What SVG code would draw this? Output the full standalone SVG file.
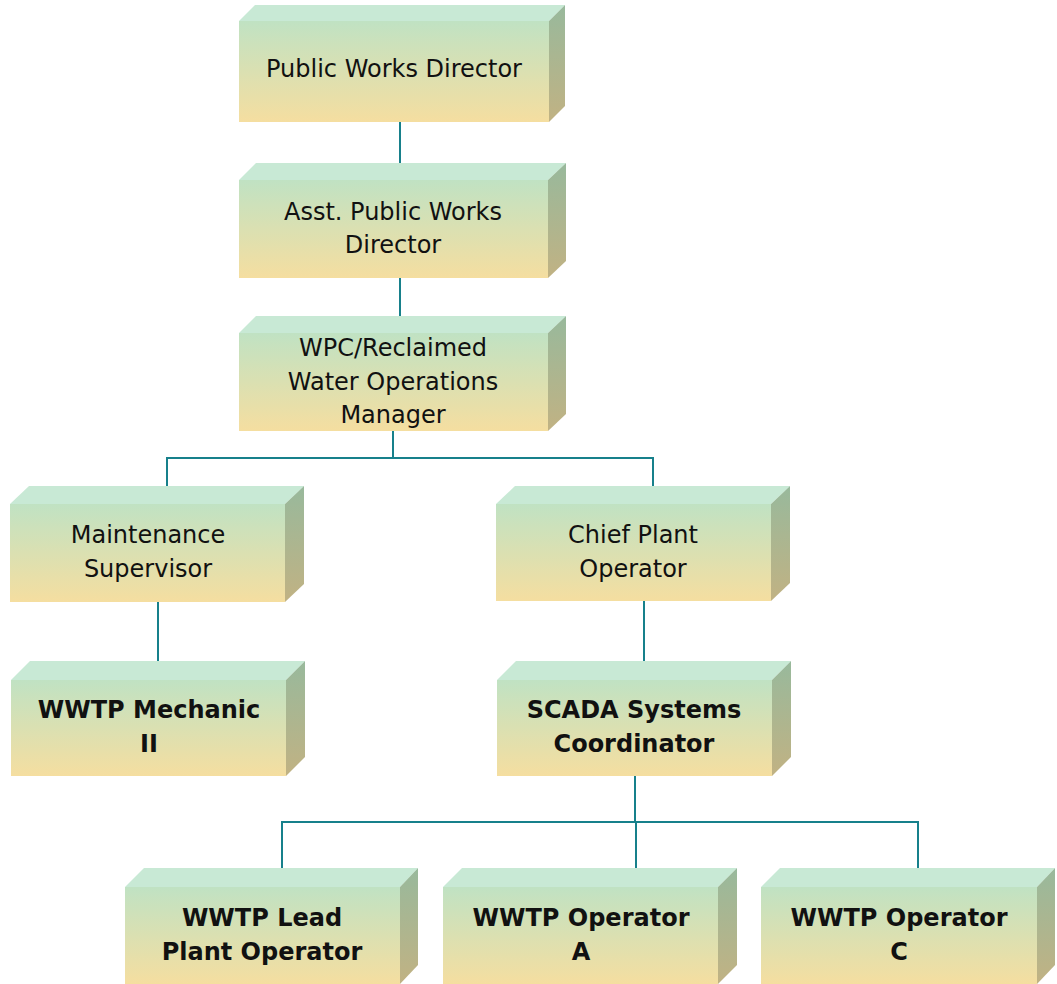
<svg xmlns="http://www.w3.org/2000/svg" width="1057" height="984" viewBox="0 0 1057 984">
<defs>
<linearGradient id="gf" x1="0" y1="0" x2="0" y2="1"><stop offset="0" stop-color="#c0e2c3"/><stop offset="1" stop-color="#f5dea0"/></linearGradient>
<linearGradient id="gs" x1="0" y1="0" x2="0" y2="1"><stop offset="0" stop-color="#98b99c"/><stop offset="1" stop-color="#c1b283"/></linearGradient>
<style>
.top{fill:#c8e9d5}
.front{fill:url(#gf)}
.side{fill:url(#gs)}
.t{font-family:"DejaVu Sans",Verdana,sans-serif;font-size:24px;fill:#111;text-anchor:middle}
.b{font-weight:bold}
.c{fill:none;stroke:#17808b;stroke-width:2}
</style>
</defs>
<g id="connectors">
<path class="c" d="M400 122V163"/>
<path class="c" d="M400 278V316"/>
<path class="c" d="M393 431V458M167 486V458H653V486"/>
<path class="c" d="M158 602V661"/>
<path class="c" d="M644 601V661"/>
<path class="c" d="M635 776V822M282 868V822H918V868M636 822V868"/>
</g>
<g id="n1">
<polygon class="top" points="239,21 255,5 565,5 549,21"/>
<rect class="front" x="239" y="21" width="310" height="101"/>
<polygon class="side" points="549,21 565,5 565,106 549,122"/>
<text class="t" x="394" y="77">Public Works Director</text>
</g>
<g id="n2">
<polygon class="top" points="239,180 256,163 566,163 548,180"/>
<rect class="front" x="239" y="180" width="309" height="98"/>
<polygon class="side" points="548,180 566,163 566,261 548,278"/>
<text class="t" x="393" y="220">Asst. Public Works</text>
<text class="t" x="393" y="253">Director</text>
</g>
<g id="n3">
<polygon class="top" points="239,333 256,316 566,316 548,333"/>
<rect class="front" x="239" y="333" width="309" height="98"/>
<polygon class="side" points="548,333 566,316 566,414 548,431"/>
<text class="t" x="393" y="356">WPC/Reclaimed</text>
<text class="t" x="393" y="390">Water Operations</text>
<text class="t" x="393" y="423">Manager</text>
</g>
<g id="n4">
<polygon class="top" points="10,504 29,486 304,486 285,504"/>
<rect class="front" x="10" y="504" width="275" height="98"/>
<polygon class="side" points="285,504 304,486 304,584 285,602"/>
<text class="t" x="148" y="543">Maintenance</text>
<text class="t" x="148" y="577">Supervisor</text>
</g>
<g id="n5">
<polygon class="top" points="496,504 515,486 790,486 771,504"/>
<rect class="front" x="496" y="504" width="275" height="97"/>
<polygon class="side" points="771,504 790,486 790,583 771,601"/>
<text class="t" x="633" y="543">Chief Plant</text>
<text class="t" x="633" y="577">Operator</text>
</g>
<g id="n6">
<polygon class="top" points="11,680 30,661 305,661 286,680"/>
<rect class="front" x="11" y="680" width="275" height="96"/>
<polygon class="side" points="286,680 305,661 305,757 286,776"/>
<text class="t b" x="149" y="718">WWTP Mechanic</text>
<text class="t b" x="149" y="752">II</text>
</g>
<g id="n7">
<polygon class="top" points="497,680 516,661 791,661 772,680"/>
<rect class="front" x="497" y="680" width="275" height="96"/>
<polygon class="side" points="772,680 791,661 791,757 772,776"/>
<text class="t b" x="634" y="718">SCADA Systems</text>
<text class="t b" x="634" y="752">Coordinator</text>
</g>
<g id="n8">
<polygon class="top" points="125,887 144,868 418,868 400,887"/>
<rect class="front" x="125" y="887" width="275" height="97"/>
<polygon class="side" points="400,887 418,868 418,965 400,984"/>
<text class="t b" x="262" y="926">WWTP Lead</text>
<text class="t b" x="262" y="960">Plant Operator</text>
</g>
<g id="n9">
<polygon class="top" points="443,887 462,868 737,868 718,887"/>
<rect class="front" x="443" y="887" width="275" height="97"/>
<polygon class="side" points="718,887 737,868 737,965 718,984"/>
<text class="t b" x="581" y="926">WWTP Operator</text>
<text class="t b" x="581" y="960">A</text>
</g>
<g id="n10">
<polygon class="top" points="761,887 780,868 1055,868 1037,887"/>
<rect class="front" x="761" y="887" width="276" height="97"/>
<polygon class="side" points="1037,887 1055,868 1055,965 1037,984"/>
<text class="t b" x="899" y="926">WWTP Operator</text>
<text class="t b" x="899" y="960">C</text>
</g>
</svg>
